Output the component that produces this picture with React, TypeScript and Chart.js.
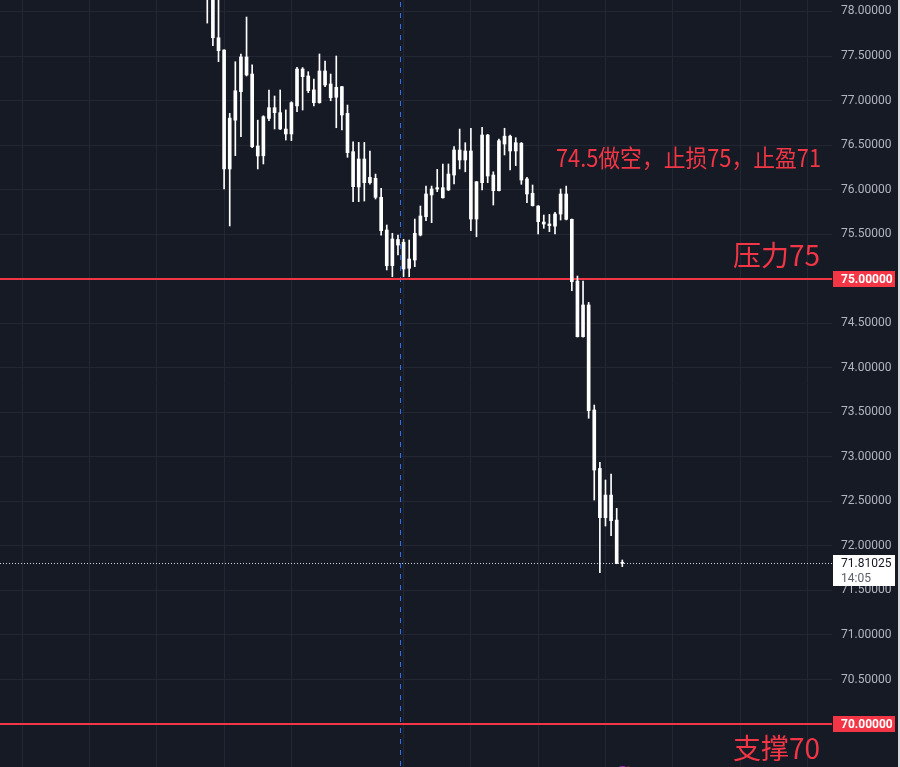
import React, { useEffect, useRef } from 'react';
import { Chart, registerables } from 'chart.js';

Chart.register(...registerables);

// ---- data (hourly candles) ----
const opens = [
  78.35, 78.18, 77.705, 77.568, 76.232, 76.78, 77.10, 77.49, 77.298, 76.49,
  76.38, 76.80, 76.92, 76.864, 76.68, 76.625, 76.94, 77.354, 77.276, 77.12,
  76.976, 77.332, 77.186, 77.037, 77.156, 76.857, 76.426, 76.03, 76.344, 76.078,
  76.127, 75.914, 75.547, 75.146, 75.44, 75.41, 75.117, 75.21, 75.49, 75.696,
  75.94, 76.007, 76.022, 75.996, 76.164, 76.445, 76.333, 76.434, 75.67, 76.078,
  76.613, 76.164, 75.988, 76.512, 76.60, 76.434, 76.52, 76.12, 75.959, 75.816,
  75.636, 75.614, 75.59, 75.726, 75.951, 75.667, 74.974, 74.349, 74.705, 73.526,
  72.87, 72.317, 72.571, 72.29, 71.805,
];
const highs = [
  78.45, 78.25, 78.2, 77.57, 76.857, 77.436, 77.523, 77.938, 77.40, 76.78,
  76.83, 77.119, 77.051, 77.119, 76.895, 76.987, 77.373, 77.37, 77.324, 77.242,
  77.523, 77.444, 77.298, 77.50, 77.16, 76.95, 76.538, 76.531, 76.53, 76.434,
  76.175, 76.015, 75.603, 75.51, 75.49, 75.442, 75.434, 75.67, 75.816, 76.04,
  76.04, 76.228, 76.288, 76.288, 76.482, 76.68, 76.527, 76.689, 76.09, 76.70,
  76.62, 76.2, 76.568, 76.689, 76.613, 76.583, 76.53, 76.138, 76.052, 75.82,
  75.715, 75.723, 75.745, 76.007, 76.04, 75.67, 75.03, 74.974, 74.735, 73.582,
  72.939, 72.74, 72.807, 72.422, 71.842,
];
const lows = [
  77.87, 77.616, 77.436, 76.007, 75.592, 76.381, 76.594, 77.276, 76.47, 76.232,
  76.288, 76.774, 76.681, 76.675, 76.557, 76.55, 76.875, 76.894, 77.088, 76.939,
  76.97, 77.156, 76.998, 76.695, 76.67, 76.363, 75.865, 75.865, 75.872, 76.06,
  75.895, 75.49, 75.098, 75.022, 75.266, 75.022, 75.022, 75.135, 75.48, 75.651,
  75.629, 75.977, 75.905, 75.99, 76.063, 76.232, 76.2, 75.539, 75.47, 75.996,
  76.078, 75.827, 75.985, 76.389, 76.22, 76.269, 76.06, 75.853, 75.815, 75.502,
  75.566, 75.528, 75.502, 75.659, 75.66, 74.865, 74.345, 74.345, 73.433, 72.515,
  71.699, 72.223, 72.115, 71.80, 71.767,
];
const closes = [
  78.18, 77.705, 77.56, 76.232, 76.803, 77.11, 77.49, 77.287, 76.482, 76.378,
  76.819, 76.92, 76.864, 76.681, 76.625, 76.976, 77.354, 77.268, 77.111, 76.976,
  77.332, 77.175, 77.032, 77.149, 76.838, 76.415, 76.033, 76.344, 76.078, 76.138,
  75.914, 75.539, 75.146, 75.446, 75.378, 75.109, 75.221, 75.51, 75.704, 75.951,
  76.007, 76.022, 75.909, 76.175, 76.445, 76.333, 76.434, 75.67, 76.089, 76.613,
  76.153, 75.988, 76.549, 76.60, 76.434, 76.527, 76.108, 75.951, 75.82, 75.64,
  75.614, 75.595, 75.726, 75.951, 75.667, 74.966, 74.349, 74.705, 73.518, 72.852,
  72.317, 72.571, 72.283, 71.805, 71.81025,
];

const priceTicks = [70, 70.5, 71, 71.5, 72, 72.5, 73, 73.5, 74, 74.5, 75, 75.5, 76, 76.5, 77, 77.5, 78];
const timeGridIdx = [-33, -21, -9, 3, 15, 35, 47, 59, 71, 83, 95, 107];
const levelPrices = [75, 70];
const lastPrice = 71.81025;
const lastTime = '14:05';
const markerIdx = 34.45;
const noteTexts = ['74.5做空，止损75，止盈71', '压力75', '支撑70'];
const notePrices = [76.355, 75.266, 69.731];

// view window (scale settings)
const X_MIN = -36.96;
const X_MAX = 111.39;
const Y_MIN = 69.518;
const Y_MAX = 78.129;

const BG = '#161a25';
const GRID = '#232733';
const RED = '#f23645';
const AXIS_TXT = '#b2b5be';
const AXIS_FONT = 'Roboto, "Liberation Sans", Arial, sans-serif';
const CJK_FONT = '"Noto Sans CJK SC", "Noto Sans", sans-serif';

const overlay = {
  id: 'overlay',
  beforeDatasetsDraw(chart: any) {
    const { ctx, chartArea: a, scales } = chart;
    const x = scales.x;
    const y = scales.y;
    ctx.save();
    // blue dashed vertical marker
    const bx = Math.floor(x.getPixelForValue(markerIdx)) + 0.5;
    ctx.strokeStyle = '#2f6ff0';
    ctx.lineWidth = 1;
    ctx.setLineDash([5, 6]);
    ctx.beginPath();
    ctx.moveTo(bx, a.top + 2);
    ctx.lineTo(bx, a.bottom);
    ctx.stroke();
    // last price dotted line
    const ly = Math.round(y.getPixelForValue(lastPrice)) + 0.5;
    ctx.strokeStyle = '#d1d4dc';
    ctx.setLineDash([1, 2]);
    ctx.beginPath();
    ctx.moveTo(a.left, ly);
    ctx.lineTo(a.right, ly);
    ctx.stroke();
    // red horizontal levels
    ctx.setLineDash([]);
    ctx.strokeStyle = RED;
    ctx.lineWidth = 2;
    levelPrices.forEach((p) => {
      const py = Math.round(y.getPixelForValue(p));
      ctx.beginPath();
      ctx.moveTo(a.left, py);
      ctx.lineTo(a.right, py);
      ctx.stroke();
    });
    ctx.restore();
  },
  afterDraw(chart: any) {
    const { ctx, chartArea: a, scales } = chart;
    const y = scales.y;
    ctx.save();
    // annotation texts
    ctx.fillStyle = RED;
    ctx.textAlign = 'right';
    ctx.textBaseline = 'middle';
    noteTexts.forEach((t, i) => {
      if (i === 0) {
        ctx.font = `24px ${CJK_FONT}`;
        ctx.fillText(t, a.right - 11, y.getPixelForValue(notePrices[i]), 265);
      } else {
        ctx.font = `28px ${CJK_FONT}`;
        ctx.fillText(t, a.right - 12, y.getPixelForValue(notePrices[i]));
      }
    });
    // axis labels for levels
    const labelX = a.right + 9;
    ctx.textAlign = 'left';
    levelPrices.forEach((p) => {
      const py = Math.round(y.getPixelForValue(p));
      ctx.fillStyle = RED;
      ctx.fillRect(a.right + 1, py - 8, 62, 16);
      ctx.fillStyle = '#ffffff';
      ctx.font = `bold 12px ${AXIS_FONT}`;
      ctx.fillText(p.toFixed(5), labelX, py + 0.5);
    });
    // last price box
    const ly = Math.round(y.getPixelForValue(lastPrice));
    ctx.fillStyle = '#ffffff';
    ctx.fillRect(a.right + 1, ly - 8, 62, 31);
    ctx.fillStyle = '#131722';
    ctx.font = `12px ${AXIS_FONT}`;
    ctx.fillText(lastPrice.toFixed(5), labelX, ly + 0.5);
    ctx.fillStyle = '#5d606b';
    ctx.fillText(lastTime, labelX, ly + 15.5);
    // small event icon at the bottom
    const ex = scales.x.getPixelForValue(74);
    ctx.strokeStyle = '#9c27b0';
    ctx.lineWidth = 2;
    ctx.beginPath();
    ctx.arc(ex, a.bottom + 6, 6, Math.PI * 1.05, Math.PI * 1.75);
    ctx.stroke();
    ctx.fillStyle = RED;
    ctx.beginPath();
    ctx.arc(ex + 6, a.bottom + 2, 2.5, 0, Math.PI * 2);
    ctx.fill();
    // right border strip
    ctx.fillStyle = '#d6d8dd';
    ctx.fillRect(chart.width - 2, 0, 2, chart.height);
    ctx.restore();
  },
};

function CandleChart() {
  const ref = useRef<HTMLCanvasElement | null>(null);
  useEffect(() => {
    document.body.style.margin = '0';
    document.body.style.background = BG;
    const canvas = ref.current;
    if (!canvas) return;
    const wicks = opens.map((_, i) => ({ x: i, y: [lows[i], highs[i]] }));
    const bodies = opens.map((o, i) => ({ x: i, y: [o, closes[i]] }));
    const chart = new Chart(canvas, {
      type: 'bar',
      data: {
        datasets: [
          {
            label: 'wick',
            data: wicks as any,
            backgroundColor: '#ffffff',
            borderWidth: 0,
            barThickness: 1,
            grouped: false,
            order: 2,
          } as any,
          {
            label: 'body',
            data: bodies as any,
            backgroundColor: '#ffffff',
            borderWidth: 0,
            barThickness: 3,
            minBarLength: 1,
            grouped: false,
            order: 1,
          } as any,
        ],
      },
      options: {
        responsive: false,
        maintainAspectRatio: false,
        animation: false,
        devicePixelRatio: 1,
        events: [],
        layout: { padding: 0 },
        plugins: { legend: { display: false }, tooltip: { enabled: false } },
        scales: {
          x: {
            type: 'linear',
            min: X_MIN,
            max: X_MAX,
            offset: false,
            display: true,
            afterBuildTicks: (s: any) => {
              s.ticks = timeGridIdx.map((v) => ({ value: v }));
            },
            afterFit: (s: any) => {
              s.height = 0;
              s.paddingLeft = 0;
              s.paddingRight = 0;
            },
            ticks: { display: false },
            grid: { color: GRID, drawTicks: false, offset: false },
            border: { display: false },
          },
          y: {
            type: 'linear',
            position: 'right',
            min: Y_MIN,
            max: Y_MAX,
            afterBuildTicks: (s: any) => {
              s.ticks = priceTicks.map((v) => ({ value: v }));
            },
            afterFit: (s: any) => {
              s.width = 68;
              s.paddingTop = 0;
              s.paddingBottom = 0;
            },
            ticks: {
              color: AXIS_TXT,
              padding: 9,
              font: { size: 12, family: AXIS_FONT },
              callback: (v: any) => Number(v).toFixed(5),
            },
            grid: { color: GRID, drawTicks: false },
            border: { display: false },
          },
        },
      } as any,
      plugins: [overlay],
    });
    return () => chart.destroy();
  }, []);
  return (
    <div style={{ position: 'absolute', left: 0, top: 0, width: 900, height: 767, background: BG }}>
      <canvas ref={ref} width={900} height={767} style={{ display: 'block' }} />
    </div>
  );
}

export default function App() {
  return <CandleChart />;
}
